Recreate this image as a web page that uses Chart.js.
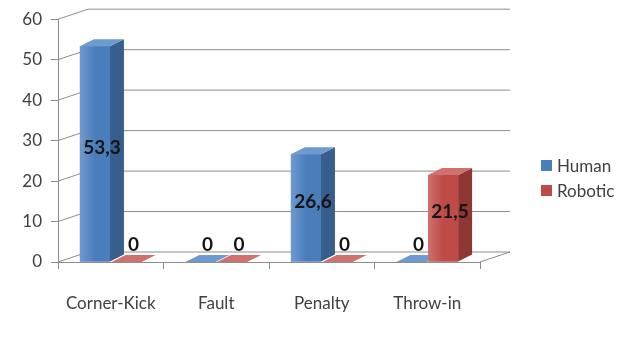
<!DOCTYPE html>
<html>
<head>
<meta charset="utf-8">
<script src="https://cdn.jsdelivr.net/npm/chart.js@4/dist/chart.umd.min.js"></script>
<style>
  body { margin: 0; background: #fff; }
  #wrap { position: relative; width: 625px; height: 350px; }
  #legend { position: absolute; left: 541px; top: 153px; font: 17px Lato, sans-serif; color: #404040; }
  #legend div { display: flex; align-items: center; height: 25px; }
  #legend span.box { width: 11px; height: 11px; margin-right: 5px; }
</style>
</head>
<body>
<div id="wrap">
  <canvas id="chart" width="625" height="350"></canvas>
  <div id="legend"></div>
</div>
<script>
const categories = ["Corner-Kick", "Fault", "Penalty", "Throw-in"];
const humanValues = [53.3, 0, 26.6, 0];
const roboticValues = [0, 0, 0, 21.5];
const yTicks = [0, 10, 20, 30, 40, 50, 60];

const seriesNames = ["Human", "Robotic"];
const frontColors = ["#4A7EBB", "#BE4B48"];
const sideColors = ["#375E8C", "#8E3735"];
const topColors = ["#6F9AD0", "#D0716E"];

const textColor = "#404040";
const lineColor = "#8c8c8c";
const barDepth = { dx: 14, dy: 7 };
const wallDepth = { dx: 30, dy: 10 };

// back wall + left wall lines, drawn behind the bars
const wallPlugin = {
  id: "walls",
  beforeDatasetsDraw(chart) {
    const { ctx, chartArea, scales } = chart;
    ctx.save();
    ctx.strokeStyle = lineColor;
    ctx.lineWidth = 1;
    yTicks.forEach(v => {
      const py = scales.y.getPixelForValue(v);
      ctx.beginPath();
      ctx.moveTo(chartArea.left, py);
      ctx.lineTo(chartArea.left + wallDepth.dx, py - wallDepth.dy);
      ctx.lineTo(chartArea.right + wallDepth.dx, py - wallDepth.dy);
      ctx.stroke();
    });
    ctx.beginPath();
    ctx.moveTo(chartArea.right, chartArea.bottom);
    ctx.lineTo(chartArea.right + wallDepth.dx, chartArea.bottom - wallDepth.dy);
    ctx.stroke();
    ctx.restore();
  }
};

// 3D-ish faces and value labels
const barPlugin = {
  id: "bars3d",
  afterDatasetsDraw(chart) {
    const { ctx } = chart;
    const { dx, dy } = barDepth;
    ctx.save();
    categories.forEach((cat, i) => {
      chart.data.datasets.forEach((ds, d) => {
        const el = chart.getDatasetMeta(d).data[i];
        const x1 = el.x - el.width / 2, x2 = el.x + el.width / 2;
        const top = el.y, base = el.base;
        // side
        ctx.fillStyle = sideColors[d];
        ctx.beginPath();
        ctx.moveTo(x2, top);
        ctx.lineTo(x2 + dx, top - dy);
        ctx.lineTo(x2 + dx, base - dy);
        ctx.lineTo(x2, base);
        ctx.closePath();
        ctx.fill();
        // top
        ctx.fillStyle = topColors[d];
        ctx.beginPath();
        ctx.moveTo(x1, top);
        ctx.lineTo(x2, top);
        ctx.lineTo(x2 + dx, top - dy);
        ctx.lineTo(x1 + dx, top - dy);
        ctx.closePath();
        ctx.fill();
        // front
        if (base - top > 0) {
          const g = ctx.createLinearGradient(x1, 0, x2, 0);
          g.addColorStop(0, topColors[d]);
          g.addColorStop(0.5, frontColors[d]);
          g.addColorStop(1, frontColors[d]);
          ctx.fillStyle = g;
          ctx.fillRect(x1, top, x2 - x1, base - top);
        }
      });
    });
    ctx.fillStyle = "#151515";
    ctx.font = "bold 19px Lato, sans-serif";
    ctx.textAlign = "center";
    ctx.textBaseline = "middle";
    chart.data.datasets.forEach((ds, d) => {
      chart.getDatasetMeta(d).data.forEach((el, i) => {
        const v = ds.data[i];
        const txt = String(v).replace(".", ",");
        const y = v > 0 ? (el.y + el.base) / 2 - 6 : el.base - dy - 10;
        ctx.fillText(txt, el.x + dx / 2, y);
      });
    });
    ctx.restore();
  }
};

const chart = new Chart(document.getElementById("chart"), {
  type: "bar",
  data: {
    labels: categories,
    datasets: [
      { label: seriesNames[0], data: humanValues, backgroundColor: frontColors[0] },
      { label: seriesNames[1], data: roboticValues, backgroundColor: frontColors[1] }
    ]
  },
  options: {
    responsive: false,
    animation: false,
    devicePixelRatio: 1,
    categoryPercentage: 0.6,
    barPercentage: 0.95,
    layout: { padding: { left: 0, right: 145, top: 17, bottom: 0 } },
    plugins: { legend: { display: false }, tooltip: { enabled: false } },
    scales: {
      x: {
        grid: { drawOnChartArea: false, tickLength: 7, color: lineColor },
        border: { color: lineColor },
        ticks: { color: textColor, font: { family: "Lato", size: 17 }, padding: 24 },
        afterFit: s => { s.height = 88; }
      },
      y: {
        min: 0,
        max: 60,
        afterBuildTicks: s => { s.ticks = yTicks.map(v => ({ value: v })); },
        grid: { drawOnChartArea: false, tickLength: 7, color: lineColor },
        border: { color: lineColor },
        ticks: { color: textColor, font: { family: "Lato", size: 17 }, padding: 9 },
        afterFit: s => { s.width = 58; }
      }
    }
  },
  plugins: [wallPlugin, barPlugin]
});

const legend = document.getElementById("legend");
seriesNames.forEach((name, d) => {
  const row = document.createElement("div");
  const box = document.createElement("span");
  box.className = "box";
  box.style.background = frontColors[d];
  row.appendChild(box);
  row.appendChild(document.createTextNode(name));
  legend.appendChild(row);
});
</script>
</body>
</html>
